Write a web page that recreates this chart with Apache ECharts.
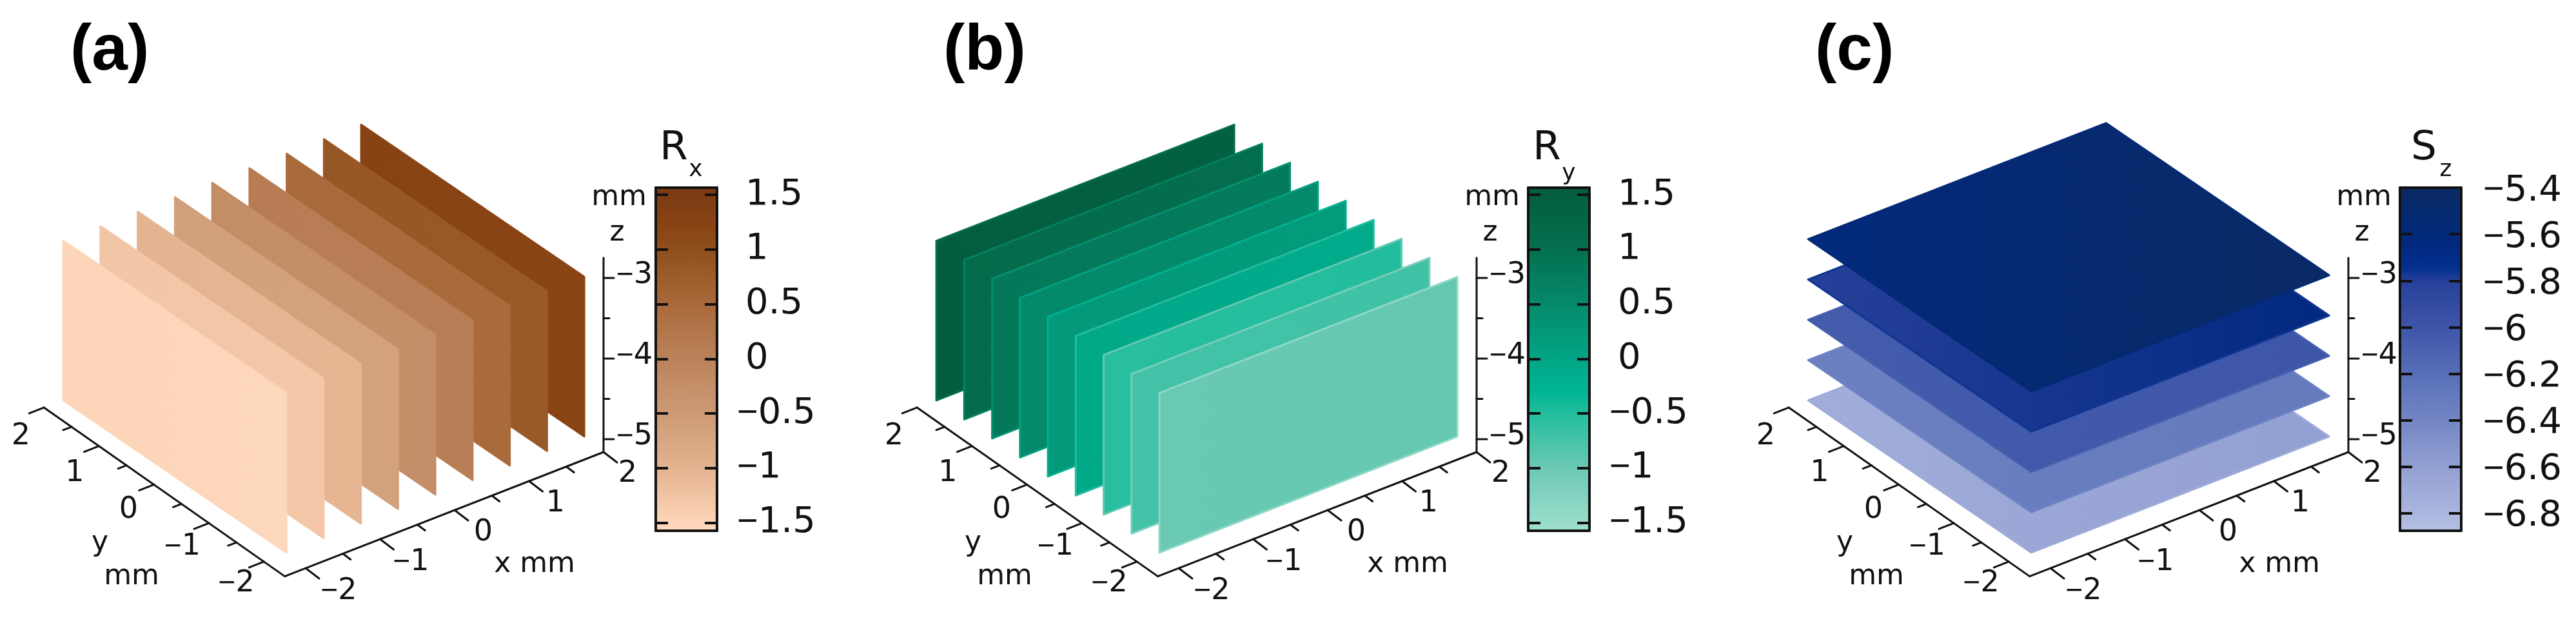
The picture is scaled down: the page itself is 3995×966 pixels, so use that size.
<!DOCTYPE html>
<html><head><meta charset="utf-8">
<style>html,body{margin:0;padding:0;background:#fff}#c{width:3995px;height:966px}</style>
<script src="https://cdn.jsdelivr.net/npm/echarts@6/dist/echarts.min.js"></script>
</head><body><div id="c"></div>
<script>
// ---- values ----
const panelNames = ['(a)', '(b)', '(c)'];
const barNames = [['R', 'x'], ['R', 'y'], ['S', 'z']];

const spatialTicks = [-2, -1.5, -1, -0.5, 0, 0.5, 1, 1.5, 2];
const depthTicks = [-5, -4.5, -4, -3.5, -3];

// panel a: sheets at constant x, drawn back to front; field value at far and near end
const sheetsAx = [2, 1.5, 1, 0.5, 0, -0.5, -1, -1.5, -2];
const sheetsAFar = [1.25, 0.85, 0.5, 0.12, -0.22, -0.62, -1.02, -1.27, -1.5];
const sheetsANear = [1.2, 0.8, 0.48, 0.08, -0.25, -0.65, -1.05, -1.3, -1.57];

// panel b: sheets at constant y, drawn back to front; field value at left and right end
const sheetsBy = [2, 1.5, 1, 0.5, 0, -0.5, -1, -1.5, -2];
const sheetsBLeft = [1.5, 1.12, 0.82, 0.52, 0.22, -0.08, -0.55, -0.72, -0.98];
const sheetsBRight = [1.45, 1.08, 0.78, 0.48, 0.18, -0.12, -0.5, -0.7, -0.95];

// panel c: planes at constant z, drawn bottom to top; field value at left and right corner
const planesCz = [-5.16, -4.66, -4.16, -3.66, -3.16];
const planesCLeft = [-6.72, -6.35, -6.05, -5.8, -5.62];
const planesCRight = [-6.6, -6.3, -6.0, -5.65, -5.42];

const barRanges = [[-1.573, 1.565], [-1.573, 1.565], [-6.875, -5.4]];
const barTicks = [
  [-1.5, -1, -0.5, 0, 0.5, 1, 1.5],
  [-1.5, -1, -0.5, 0, 0.5, 1, 1.5],
  [-6.8, -6.6, -6.4, -6.2, -6, -5.8, -5.6, -5.4]
];
const mapA = [[-1.573, '#fed8bc'], [-1.5, '#fdd5b8'], [-1, '#e3b28f'], [-0.5, '#cd9a75'], [0, '#bb825a'], [0.5, '#a96a3b'], [1, '#8f4f1c'], [1.2, '#8a4515'], [1.565, '#7a3913']];
const mapB = [[-1.573, '#a0dfcf'], [-1, '#6cc9b3'], [-0.5, '#22bd9e'], [-0.3, '#00b594'], [0, '#02a585'], [0.5, '#048a6b'], [1, '#04704f'], [1.565, '#035c3e']];
const mapC = [[-6.875, '#b4bfe2'], [-6.6, '#929fd2'], [-6.4, '#7386c4'], [-6.2, '#566fb7'], [-6, '#3e56a8'], [-5.8, '#27409a'], [-5.75, '#05308f'], [-5.65, '#01287f'], [-5.55, '#042a74'], [-5.4, '#0b2a62']];
const colorMaps = [mapA, mapB, mapC];

// ---- layout ----
const panelLeft = [0, 1354, 2706];
const barLeft = [1017, 2370, 3722];
const barWidth = 95, barTop = 291, barHeight = 532;
const boxX = [-2.28, 2], boxY = [-2.38, 2], boxZ = [-5.16, -2.75];
const surfaceY = [-2, 2], surfaceX = [-2, 2], surfaceZ = [-5.16, -3.18];
const FONT = '"DejaVu Sans"', MINUS_FONT = '"Liberation Sans"';
const INK = '#111';

// oblique projection of the axis frame
function project(x, y, z) {
  return [502.1 + 115.5 * x - 85.25 * y, 648.8 - 45 * x - 59.75 * y - (z - boxZ[0]) * 125];
}
// the surfaces sit on a very slightly different y vector than the printed axis
function projectSurface(x, y, z) {
  return [502.1 + 115.5 * x - 86.5 * y, 648.8 - 45 * x - 59 * y - (z - boxZ[0]) * 125];
}
function mapColor(v, stops) {
  if (v <= stops[0][0]) return stops[0][1];
  for (let i = 1; i < stops.length; i++) {
    if (v <= stops[i][0]) {
      const t = (v - stops[i - 1][0]) / (stops[i][0] - stops[i - 1][0]);
      return echarts.color.lerp(t, [stops[i - 1][1], stops[i][1]]);
    }
  }
  return stops[stops.length - 1][1];
}
function richText(value) {
  const s = String(Math.abs(value));
  return (value < 0 ? '{m|\u2212}' : '') + '{d|' + s + '}';
}
function richStyle(size) {
  return {
    m: { fontFamily: MINUS_FONT, fontSize: size, fill: INK, color: INK },
    d: { fontFamily: FONT, fontSize: size, fill: INK, color: INK }
  };
}
function fill(a, b, stops) {
  return new echarts.graphic.LinearGradient(0, 0, 1, 0, [
    { offset: 0, color: mapColor(a, stops) },
    { offset: 1, color: mapColor(b, stops) }
  ]);
}

function surfaceSeries(panel, corners, lowA, lowB, edgeShift) {
  const stops = colorMaps[panel];
  return {
    type: 'custom', xAxisIndex: panel, yAxisIndex: panel, silent: true, z: 3,
    data: corners.map((c, i) => [i, lowA[i], lowB[i]]),
    renderItem(params, api) {
      const i = params.dataIndex;
      const pts = corners[i].map(p => api.coord(projectSurface(p[0], p[1], p[2])));
      return {
        type: 'polygon', shape: { points: pts },
        style: {
          fill: fill(api.value(1), api.value(2), stops),
          stroke: mapColor((api.value(1) + api.value(2)) / 2 - edgeShift, stops),
          lineWidth: 3, lineJoin: 'round'
        }
      };
    }
  };
}

function frameItems(panel) {
  const items = [];
  const line = (a, b, w) => items.push({ kind: 'line', a, b, w: w || 3 });
  const text = (p, value, size) => items.push({ kind: 'text', p, value, size });
  const word = (p, value, size) => items.push({ kind: 'word', p, value, size });
  line(project(boxX[0], boxY[0], boxZ[0]), project(boxX[1], boxY[0], boxZ[0]));
  line(project(boxX[0], boxY[0], boxZ[0]), project(boxX[0], boxY[1], boxZ[0]));
  line(project(boxX[1], boxY[0], boxZ[0]), project(boxX[1], boxY[0], boxZ[1]));
  spatialTicks.forEach(t => {
    const major = Number.isInteger(t);
    const bx = project(t, boxY[0], boxZ[0]);
    line(bx, [bx[0] + (major ? 21 : 12), bx[1] + (major ? 16 : 9)]);
    const by = project(boxX[0], t, boxZ[0]);
    line(by, [by[0] + (major ? -23 : -13), by[1] + (major ? 9 : 5)]);
    if (major) {
      text([bx[0] + 44.5 - 3.5 * t, bx[1] + 35.5 - 0.5 * t], t, 46);
      text([by[0] - 39.3 + 1.65 * t, by[1] + 39.6 + 2.55 * t], t, 46);
    }
  });
  depthTicks.forEach(t => {
    const major = Number.isInteger(t);
    const b = project(boxX[1], boxY[0], t);
    line(b, [b[0] + (major ? 16 : 9), b[1]]);
    if (major) text([b[0] + 48, b[1] - 4], t, 46);
  });
  word([829, 876], 'x mm', 44);
  word([155, 843], 'y', 44);
  word([204, 895], 'mm', 44);
  word([957, 362], 'z', 44);
  word([960, 307], 'mm', 44);
  word([1045 + (panel === 2 ? 8 : 0), 231], barNames[panel][0], 63);
  word([1079 + (panel === 2 ? 8 : 0), 264 + (panel === 1 ? 6 : 0)], barNames[panel][1], 36);
  return items;
}

function frameSeries(panel) {
  const items = frameItems(panel);
  return {
    type: 'custom', xAxisIndex: panel, yAxisIndex: panel, silent: true, z: 4,
    data: items.map((_, i) => [i]),
    renderItem(params, api) {
      const it = items[params.dataIndex];
      if (it.kind === 'line') {
        const a = api.coord(it.a), b = api.coord(it.b);
        return {
          type: 'line', shape: { x1: a[0], y1: a[1], x2: b[0], y2: b[1] },
          style: { stroke: INK, lineWidth: it.w, lineCap: 'round' }
        };
      }
      const p = api.coord(it.p);
      if (it.kind === 'text') {
        return {
          type: 'text', x: p[0], y: p[1],
          style: { text: richText(it.value), rich: richStyle(it.size), align: 'center', verticalAlign: 'middle', fill: INK }
        };
      }
      return {
        type: 'text', x: p[0], y: p[1],
        style: { text: it.value, fontFamily: FONT, fontSize: it.size, fill: INK, align: 'center', verticalAlign: 'middle' }
      };
    }
  };
}

function barSeries(panel) {
  const stops = colorMaps[panel];
  const [lo, hi] = barRanges[panel];
  return {
    type: 'custom', xAxisIndex: 3 + panel * 2, yAxisIndex: 3 + panel * 2, silent: true, z: 2,
    data: [[0, lo, 1, hi]],
    renderItem(params, api) {
      const a = api.coord([api.value(0), api.value(3)]);
      const b = api.coord([api.value(2), api.value(1)]);
      return {
        type: 'rect', shape: { x: a[0], y: a[1], width: b[0] - a[0], height: b[1] - a[1] },
        style: {
          fill: new echarts.graphic.LinearGradient(0, 0, 0, 1,
            stops.map(s => ({ offset: (hi - s[0]) / (hi - lo), color: s[1] })).reverse())
        }
      };
    }
  };
}

const sheetA = sheetsAx.map(x => [[x, surfaceY[1], surfaceZ[0]], [x, surfaceY[0], surfaceZ[0]], [x, surfaceY[0], surfaceZ[1]], [x, surfaceY[1], surfaceZ[1]]]);
const sheetB = sheetsBy.map(y => [[surfaceX[0], y, surfaceZ[0]], [surfaceX[1], y, surfaceZ[0]], [surfaceX[1], y, surfaceZ[1]], [surfaceX[0], y, surfaceZ[1]]]);
const sheetC = planesCz.map(z => [[surfaceX[0], surfaceY[1], z], [surfaceX[0], surfaceY[0], z], [surfaceX[1], surfaceY[0], z], [surfaceX[1], surfaceY[1], z]]);

const grid = [], xAxis = [], yAxis = [], series = [], title = [];
panelLeft.forEach((left, p) => {
  grid.push({ left, top: 0, width: 1289, height: 966, show: false });
  xAxis.push({ type: 'value', gridIndex: p, min: 0, max: 1289, show: false });
  yAxis.push({ type: 'value', gridIndex: p, min: 0, max: 966, inverse: true, show: false });
  title.push({
    text: panelNames[p], left: left + 104, top: 25,
    textStyle: { fontFamily: '"Liberation Sans"', fontWeight: 'bold', fontSize: 100, color: '#000' }
  });
});
panelLeft.forEach((left, p) => {
  const g = grid.length;
  grid.push({ left: barLeft[p], top: barTop, width: barWidth, height: barHeight, show: false });
  const lineStyle = { color: INK, width: 4, cap: 'round' };
  const [lo, hi] = barRanges[p];
  [['bottom'], ['top']].forEach(([pos]) => xAxis.push({
    type: 'value', gridIndex: g, position: pos, min: 0, max: 1, z: 6,
    axisLine: { show: true, onZero: false, lineStyle }, axisTick: { show: false }, axisLabel: { show: false }, splitLine: { show: false }
  }));
  const rich = richStyle(56);
  rich.d = { fontFamily: FONT, fontSize: 56, color: INK };
  rich.m = { fontFamily: MINUS_FONT, fontSize: 56, color: INK };
  rich.dp = { fontFamily: FONT, fontSize: 56, color: INK, padding: [0, 0, 0, 13] };
  ['left', 'right'].forEach(pos => yAxis.push({
    type: 'value', gridIndex: g, position: pos, min: lo, max: hi, z: 6,
    axisLine: { show: true, onZero: false, lineStyle },
    axisTick: { show: true, inside: true, length: 19, customValues: barTicks[p], lineStyle: { color: INK, width: 4 } },
    splitLine: { show: false },
    axisLabel: pos === 'right' ? {
      show: true, customValues: barTicks[p], align: 'left', margin: p === 2 ? 34 : 31, hideOverlap: false,
      showMinLabel: true, showMaxLabel: true,
      padding: p === 2 ? [10, 0, 0, 0] : 0,
      formatter: v => v < 0 ? richText(v) : '{dp|' + v + '}', rich
    } : { show: false }
  }));
});
series.push(surfaceSeries(0, sheetA, sheetsAFar, sheetsANear, 0));
series.push(surfaceSeries(1, sheetB, sheetsBLeft, sheetsBRight, 0.42));
series.push(surfaceSeries(2, sheetC, planesCLeft, planesCRight, 0.04));
panelLeft.forEach((_, p) => { series.push(frameSeries(p)); series.push(barSeries(p)); });

const chart = echarts.init(document.getElementById('c'), null, { renderer: 'canvas' });
chart.setOption({ animation: false, backgroundColor: '#fff', title, grid, xAxis, yAxis, series });
</script></body></html>
